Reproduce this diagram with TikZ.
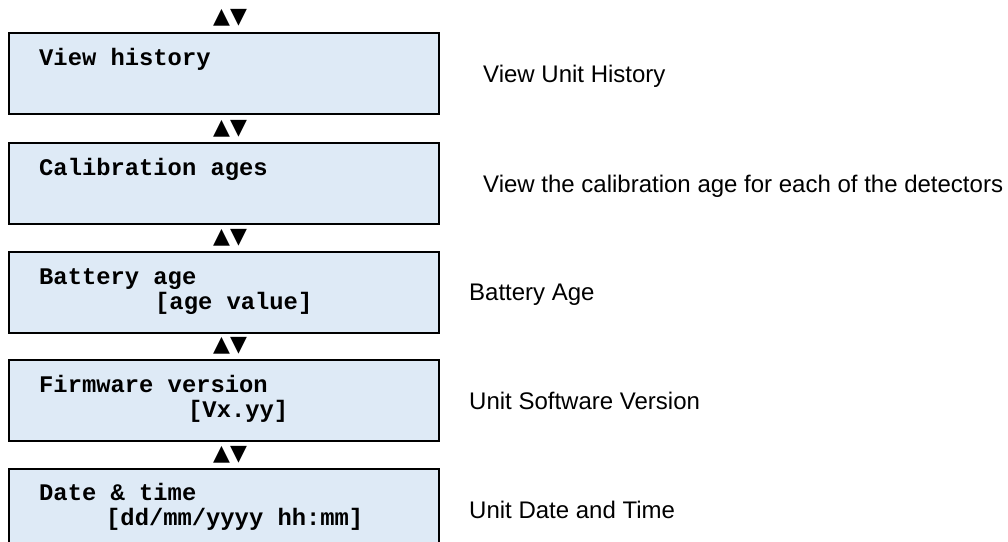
\documentclass[tikz,border=0pt]{standalone}
\usepackage{fontspec}
\setmainfont{Liberation Sans}
\setmonofont{Liberation Mono}
\newfontfamily\navfont{DejaVu Sans}
\definecolor{menublue}{HTML}{DEEAF6}
\tikzstyle{menubox} = [rectangle, draw=black, line width=2pt, fill=menublue, minimum width=430pt, minimum height=81pt, inner sep=0pt]
\tikzstyle{menutext} = [anchor=base west, inner sep=0pt, font=\fontsize{23.8}{26}\ttfamily\bfseries]
\tikzstyle{desc} = [anchor=base west, inner sep=0pt, font=\fontsize{24}{26}\selectfont]
\tikzstyle{updown} = [inner sep=0pt, font=\fontsize{22}{24}\navfont]

\begin{document}
\begin{tikzpicture}[x=1pt, y=-1pt]
    \path [use as bounding box, clip] (0,0) rectangle (1008,541);
    \node [menubox] at (224,73) (hist) {};
    \node [menubox] at (224,183) (calib) {};
    \node [menubox] at (224,292) (batt) {};
    \node [menubox] at (224,400.5) (firm) {};
    \node [menubox] at (224,509.5) (date) {};
    \node [updown] at (230,18) (nav0) {▲▼};
    \node [updown] at (230,128.5) (nav1) {▲▼};
    \node [updown] at (230,237.5) (nav2) {▲▼};
    \node [updown] at (230,346) (nav3) {▲▼};
    \node [updown] at (230,455) (nav4) {▲▼};
    \node [menutext] at (39,65) (histtxt) {View history};
    \node [menutext] at (39,175) (calibtxt) {Calibration ages};
    \node [menutext] at (39,284) (batttxt) {Battery age};
    \node [menutext] at (155,309) (battval) {[age value]};
    \node [menutext] at (39,392) (firmtxt) {Firmware version};
    \node [menutext] at (188,417) (firmval) {[Vx.yy]};
    \node [menutext] at (39,500) (datetxt) {Date \& time};
    \node [menutext] at (106,525) (dateval) {[dd/mm/yyyy hh:mm]};
    \node [desc] at (483,82) (histdesc) {View Unit History};
    \node [desc] at (483,192) (calibdesc) {View the calibration age for each of the detectors};
    \node [desc] at (469,300.5) (battdesc) {Battery Age};
    \node [desc] at (469,409) (firmdesc) {Unit Software Version};
    \node [desc] at (469,518) (datedesc) {Unit Date and Time};
\end{tikzpicture}
\end{document}
